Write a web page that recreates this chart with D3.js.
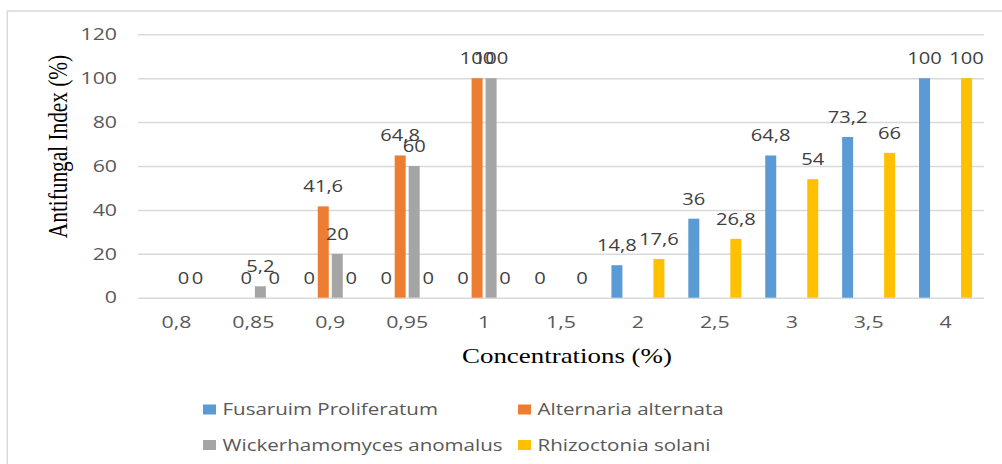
<!DOCTYPE html>
<html>
<head>
<meta charset="utf-8">
<script src="https://cdn.jsdelivr.net/npm/d3@7"></script>
<style>
  html, body { margin: 0; padding: 0; background: #fff; overflow: hidden; }
  svg { display: block; }
</style>
</head>
<body>
<div id="chart"></div>
<script>
// Concentrations on the category axis
const categories = ["0,8", "0,85", "0,9", "0,95", "1", "1,5", "2", "2,5", "3", "3,5", "4"];

// Antifungal index (%) per fungus; null = not tested at that concentration
const fusarium        = [null, null, 0, 0, 0, 0, 14.8, 36, 64.8, 73.2, 100];
const alternaria      = [null, 0, 41.6, 64.8, 100, null, null, null, null, null, null];
const wickerhamomyces = [0, 5.2, 20, 60, 100, null, null, null, null, null, null];
const rhizoctonia     = [0, 0, 0, 0, 0, 0, 17.6, 26.8, 54, 66, 100];

const seriesNames = ["Fusaruim Proliferatum", "Alternaria alternata", "Wickerhamomyces anomalus", "Rhizoctonia solani"];
const seriesColors = ["#5b9bd5", "#ed7d31", "#a5a5a5", "#ffc000"];
const yTicks = [0, 20, 40, 60, 80, 100, 120];

const series = [fusarium, alternaria, wickerhamomyces, rhizoctonia].map((values, i) => ({
  key: "s" + i, name: seriesNames[i], color: seriesColors[i], values
}));

// The drawing is laid out in a narrower coordinate space and stretched horizontally.
const K = 1.3;
const W = 1002, H = 464;
const iw = W / K;
const plot = { left: 138 / K, right: 984 / K, top: 34.3, bottom: 297.7 };

const sansFont = "'Open Sans', 'Noto Sans', sans-serif";
const serifFont = "'Liberation Serif', 'Times New Roman', serif";

const svg = d3.select("#chart").append("svg")
  .attr("width", W).attr("height", H)
  .attr("viewBox", `0 0 ${iw} ${H}`)
  .attr("preserveAspectRatio", "none");

// chart frame
svg.append("rect")
  .attr("x", 7.3 / K).attr("y", 11)
  .attr("width", iw).attr("height", H)
  .attr("fill", "#fff")
  .attr("stroke", "#d9d9d9").attr("stroke-width", 1.5)
  .attr("vector-effect", "non-scaling-stroke");

const x = d3.scaleBand().domain(categories).range([plot.left, plot.right]).padding(0);
const xs = d3.scaleBand().domain(series.map(s => s.key))
  .range([-28 / K, 28 / K]).paddingInner(3 / 14).paddingOuter(1.5 / 14);
const y = d3.scaleLinear().domain([0, 120]).range([plot.bottom, plot.top]);

const fmt = v => String(v).replace(".", ",");

// y axis with gridlines
svg.append("g")
  .attr("transform", `translate(${plot.left},0)`)
  .call(d3.axisLeft(y).tickValues(yTicks).tickSize(-(plot.right - plot.left)).tickPadding(21 / K).tickFormat(fmt))
  .call(g => g.select(".domain").remove())
  .call(g => g.selectAll(".tick line").attr("stroke", "#d9d9d9").attr("stroke-width", 1.5))
  .call(g => g.selectAll(".tick text")
    .attr("fill", "#595959")
    .style("font-family", sansFont).style("font-size", "16.4px"));

// x axis labels
svg.append("g")
  .attr("transform", `translate(0,${plot.bottom})`)
  .call(d3.axisBottom(x).tickSize(0).tickPadding(19))
  .call(g => g.select(".domain").remove())
  .call(g => g.selectAll(".tick text")
    .attr("fill", "#595959")
    .style("font-family", sansFont).style("font-size", "16.4px"));

// bars
const points = series.flatMap(s => s.values.map((v, i) => ({ s, cat: categories[i], v }))
  .filter(d => d.v !== null));

svg.append("g").selectAll("rect")
  .data(points)
  .join("rect")
  .attr("x", d => x(d.cat) + x.bandwidth() / 2 + xs(d.s.key))
  .attr("y", d => y(d.v))
  .attr("width", xs.bandwidth())
  .attr("height", d => y(0) - y(d.v))
  .attr("fill", d => d.s.color);

// value labels
svg.append("g").selectAll("text")
  .data(points)
  .join("text")
  .attr("x", d => x(d.cat) + x.bandwidth() / 2 + xs(d.s.key) + xs.bandwidth() / 2)
  .attr("y", d => y(d.v) - 14)
  .attr("text-anchor", "middle")
  .attr("fill", "#404040")
  .style("font-family", sansFont).style("font-size", "15.5px")
  .text(d => fmt(d.v));

// axis titles
svg.append("text")
  .attr("x", 567 / K).attr("y", 363)
  .attr("text-anchor", "middle")
  .attr("fill", "#000")
  .style("font-family", serifFont).style("font-size", "20.7px")
  .text("Concentrations (%)");

svg.append("text")
  .attr("transform", `translate(${67 / K},146.5) rotate(-90)`)
  .attr("text-anchor", "middle")
  .attr("fill", "#000")
  .style("font-family", serifFont).style("font-size", "21.3px")
  .text("Antifungal Index (%)");

// legend, two columns by two rows
const legendCols = [203 / K, 518 / K];
const legendRows = [409.5, 445];
const legend = svg.append("g").selectAll("g")
  .data(series)
  .join("g")
  .attr("transform", (d, i) => `translate(${legendCols[i % 2]},${legendRows[Math.floor(i / 2)]})`);

legend.append("rect")
  .attr("x", 0).attr("y", -5)
  .attr("width", 10).attr("height", 10)
  .attr("fill", d => d.color);

legend.append("text")
  .attr("x", 15)
  .attr("dy", "0.36em")
  .attr("fill", "#595959")
  .style("font-family", sansFont).style("font-size", "15.8px")
  .text(d => d.name);
</script>
</body>
</html>
